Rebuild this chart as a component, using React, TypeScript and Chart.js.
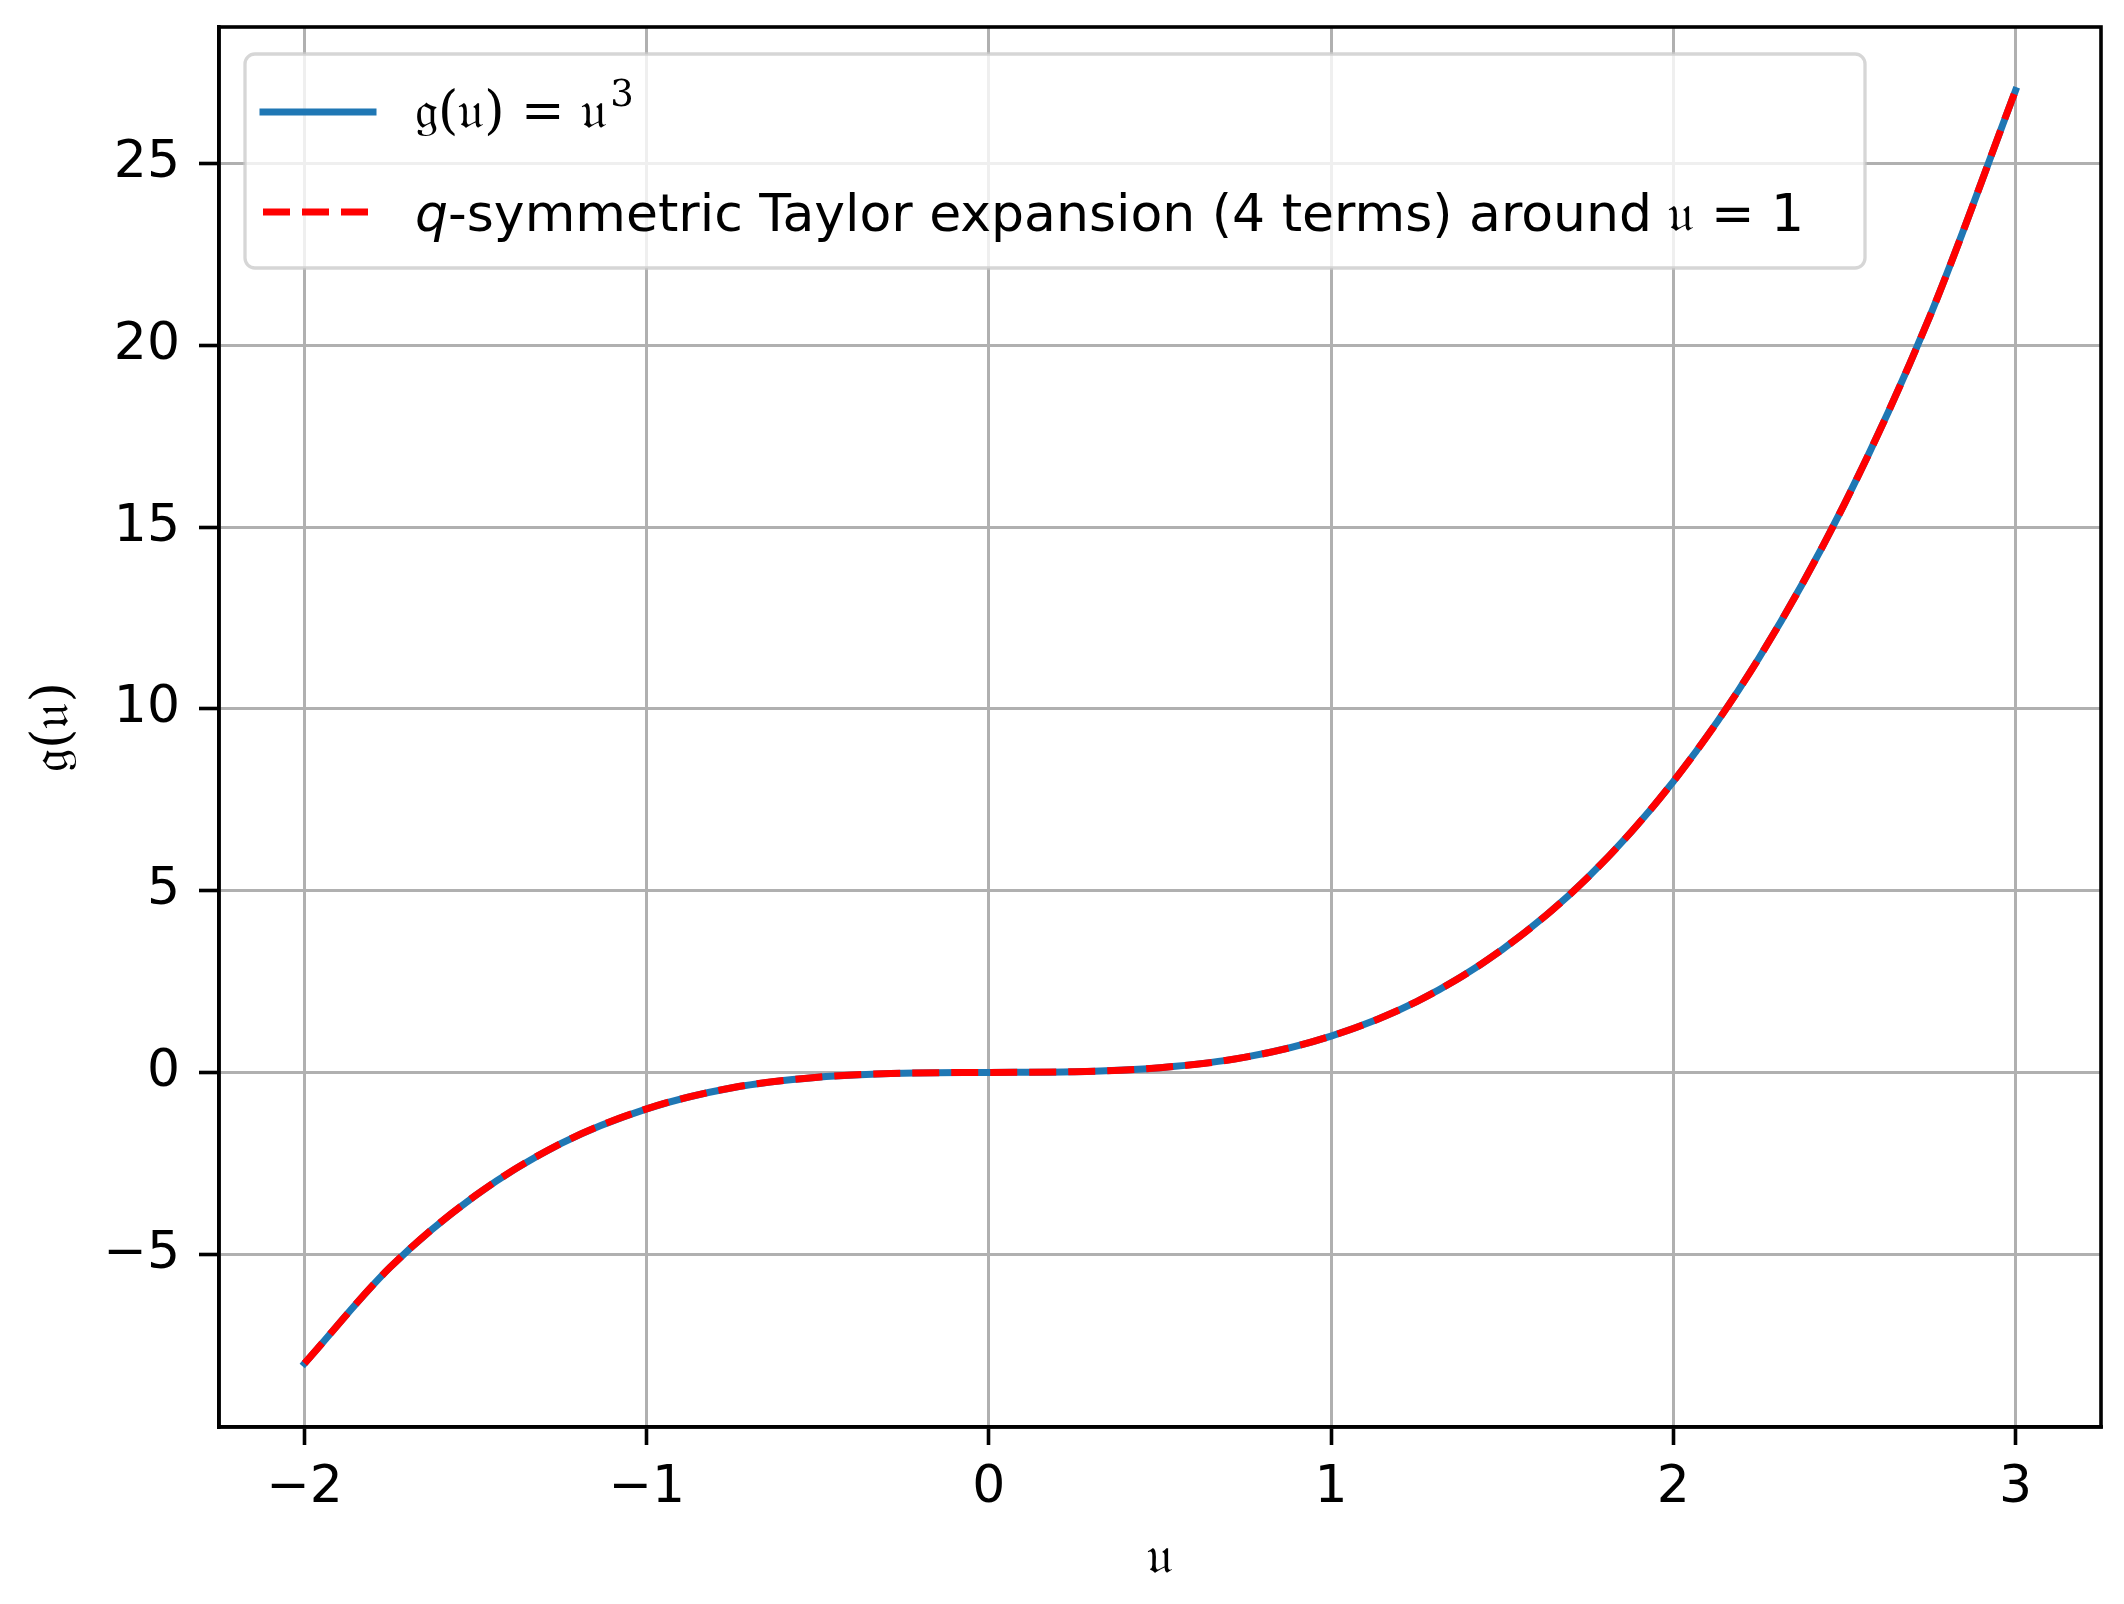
import React, { useEffect, useRef } from "react";
import { Chart, registerables } from "chart.js";

Chart.register(...registerables);

// ---- data ----
const uValues = [-2, -1.75, -1.5, -1.25, -1, -0.75, -0.5, -0.25, 0, 0.25, 0.5, 0.75, 1, 1.25, 1.5, 1.75, 2, 2.25, 2.5, 2.75, 3];
const cubeValues = [-8, -5.36, -3.38, -1.95, -1, -0.42, -0.13, -0.02, 0, 0.02, 0.13, 0.42, 1, 1.95, 3.38, 5.36, 8, 11.39, 15.63, 20.8, 27];
const taylorValues = [-8, -5.36, -3.38, -1.95, -1, -0.42, -0.13, -0.02, 0, 0.02, 0.13, 0.42, 1, 1.95, 3.38, 5.36, 8, 11.39, 15.63, 20.8, 27];
const xTickValues = [-2, -1, 0, 1, 2, 3];
const yTickValues = [-5, 0, 5, 10, 15, 20, 25];
const seriesLabels = ["𝔤(𝔲) = 𝔲³", "q-symmetric Taylor expansion (4 terms) around 𝔲 = 1"];
const xAxisTitle = "𝔲";
const yAxisTitle = "𝔤(𝔲)";

const BLUE = "#1f77b4";
const RED = "#ff0000";
const FONT = "DejaVu Sans";
const MATH_FONT = "DejaVu Serif";
const FS = 52;

const minus = (v: number | string) => String(v).replace("-", "\u2212");

const framePlugin = {
  id: "frame",
  afterDatasetsDraw(chart: any) {
    const { ctx, chartArea: a } = chart;
    ctx.save();
    ctx.strokeStyle = "#000";
    ctx.lineWidth = 3.6;
    ctx.strokeRect(a.left, a.top, a.right - a.left, a.bottom - a.top);
    ctx.restore();
  },
};

const legendPlugin = {
  id: "mplLegend",
  afterDraw(chart: any) {
    const { ctx, chartArea: a } = chart;
    const ds = chart.data.datasets;
    const x0 = a.left + 26;
    const y0 = a.top + 27;
    const w = 1620;
    const h = 214;
    ctx.save();
    ctx.beginPath();
    (ctx as any).roundRect(x0, y0, w, h, 10);
    ctx.fillStyle = "rgba(255,255,255,0.8)";
    ctx.fill();
    ctx.strokeStyle = "rgba(204,204,204,0.8)";
    ctx.lineWidth = 3.3;
    ctx.stroke();

    const rows = [y0 + 58, y0 + 158];
    const lineX1 = x0 + 18;
    const lineX2 = x0 + 128;
    const textX = x0 + 170;

    ds.forEach((d: any, i: number) => {
      const y = rows[i];
      ctx.beginPath();
      ctx.setLineDash(d.borderDash || []);
      ctx.lineCap = d.borderCapStyle || "butt";
      ctx.strokeStyle = d.borderColor;
      ctx.lineWidth = d.borderWidth;
      ctx.moveTo(lineX1, y);
      ctx.lineTo(lineX2, y);
      ctx.stroke();
      ctx.setLineDash([]);
    });

    ctx.fillStyle = "#000";
    ctx.textBaseline = "alphabetic";
    ctx.textAlign = "left";
    // entry 1: math text with superscript
    const lab1 = ds[0].label as string;
    const base1 = lab1.replace("³", "");
    ctx.font = `${FS}px ${MATH_FONT}`;
    ctx.fillText(base1, textX, rows[0] + 16);
    const wb = ctx.measureText(base1).width;
    ctx.font = `${Math.round(FS * 0.72)}px ${MATH_FONT}`;
    ctx.fillText("3", textX + wb + 3, rows[0] - 6);

    // entry 2: italic q then regular text
    const lab2 = ds[1].label as string;
    const first = lab2.charAt(0);
    const rest = lab2.slice(1);
    ctx.font = `italic ${FS}px ${FONT}`;
    ctx.fillText(first, textX, rows[1] + 19);
    const wq = ctx.measureText(first).width;
    ctx.font = `${FS}px ${FONT}`;
    ctx.fillText(rest, textX + wq, rows[1] + 19);
    ctx.restore();
  },
};

export default function App() {
  const ref = useRef<HTMLCanvasElement | null>(null);
  useEffect(() => {
    if (!ref.current) return;
    const chart = new Chart(ref.current, {
      type: "line",
      data: {
        datasets: [
          {
            label: seriesLabels[0],
            data: uValues.map((u, i) => ({ x: u, y: cubeValues[i] })),
            borderColor: BLUE,
            borderWidth: 7,
            borderCapStyle: "square",
            pointRadius: 0,
            cubicInterpolationMode: "monotone",
            fill: false,
            order: 1,
          },
          {
            label: seriesLabels[1],
            data: uValues.map((u, i) => ({ x: u, y: taylorValues[i] })),
            borderColor: RED,
            borderWidth: 7,
            borderDash: [27, 12],
            borderCapStyle: "butt",
            pointRadius: 0,
            cubicInterpolationMode: "monotone",
            fill: false,
            order: 0,
          },
        ],
      },
      options: {
        responsive: false,
        animation: false,
        events: [],
        layout: { padding: { top: 27, right: 23, left: 0, bottom: 0 } },
        plugins: { legend: { display: false }, tooltip: { enabled: false } },
        scales: {
          x: {
            type: "linear",
            min: -2.25,
            max: 3.25,
            afterFit: (s: any) => { s.height = 177; s.paddingLeft = 0; s.paddingRight = 0; },
            afterBuildTicks: (s: any) => { s.ticks = xTickValues.map((v) => ({ value: v })); },
            grid: { color: "#b0b0b0", lineWidth: 3, tickLength: 18, tickColor: "#000", tickWidth: 3.6 },
            border: { display: true, color: "#000", width: 3.6 },
            ticks: { color: "#000", font: { family: FONT, size: FS }, padding: 12, maxRotation: 0, callback: (v: any) => minus(v) },
            title: { display: true, text: xAxisTitle, color: "#000", font: { family: MATH_FONT, size: FS, lineHeight: 1.2 }, padding: { top: 0, bottom: 13 } },
          },
          y: {
            type: "linear",
            min: -9.75,
            max: 28.75,
            afterFit: (s: any) => { s.width = 219; s.paddingTop = 0; s.paddingBottom = 0; },
            afterBuildTicks: (s: any) => { s.ticks = yTickValues.map((v) => ({ value: v })); },
            grid: { color: "#b0b0b0", lineWidth: 3, tickLength: 20, tickColor: "#000", tickWidth: 3.6 },
            border: { display: true, color: "#000", width: 3.6 },
            ticks: { color: "#000", font: { family: FONT, size: FS }, padding: 19, callback: (v: any) => minus(v) },
            title: { display: true, text: yAxisTitle, color: "#000", font: { family: MATH_FONT, size: FS, lineHeight: 1.2 }, padding: { top: 23, bottom: 0 } },
          },
        },
      },
      plugins: [framePlugin, legendPlugin],
    } as any);
    return () => chart.destroy();
  }, []);
  return (
    <div style={{ position: "absolute", left: 0, top: 0, width: 2124, height: 1604, background: "#fff" }}>
      <canvas ref={ref} width={2124} height={1604} style={{ display: "block", width: 2124, height: 1604 }} />
    </div>
  );
}
